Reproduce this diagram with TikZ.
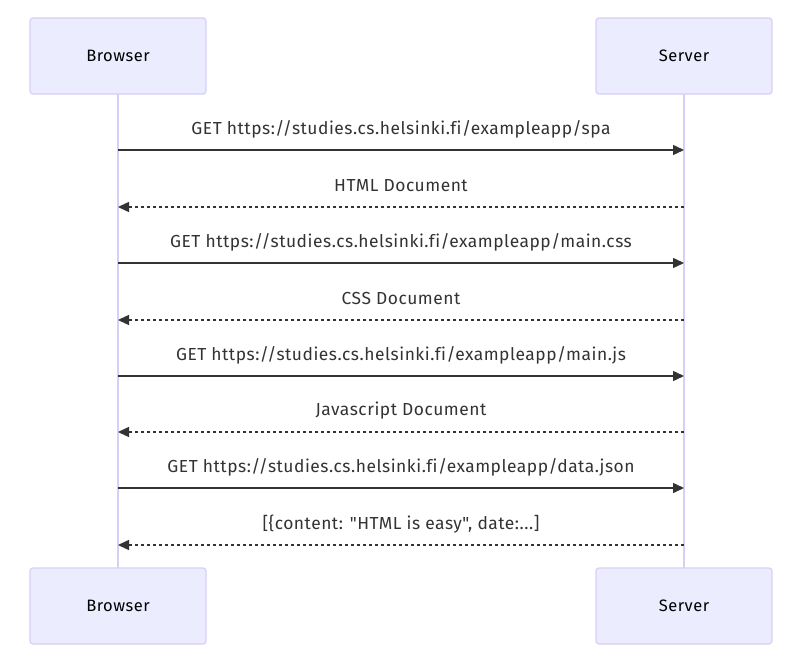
\documentclass[tikz,border=0pt]{standalone}
\usepackage{fontspec}
\newfontfamily\lf{Fira Sans}[LetterSpace=3,Ligatures={NoCommon}]
\usetikzlibrary{arrows.meta}
\definecolor{actfill}{HTML}{ECECFF}
\definecolor{actline}{HTML}{D9CEF5}
\definecolor{msg}{HTML}{333333}
\tikzset{
  actor/.style={draw=actline, fill=actfill, line width=1.2pt, rounded corners=3pt,
    minimum width=176pt, minimum height=76pt, inner sep=0pt, font=\lf\fontsize{16.5}{19}\selectfont, text=black},
  life/.style={draw=actline, line width=1.5pt},
  req/.style={draw=msg, line width=1.5pt, -{Triangle[length=11pt,width=10pt]}},
  resp/.style={req, dash pattern=on 3pt off 3pt},
  lbl/.style={font=\lf\fontsize{17.4}{19}\selectfont, text=msg, inner sep=0pt}
}
\begin{document}
\begin{tikzpicture}[x=1pt,y=-1pt]
\useasboundingbox[fill=white] (0,0) rectangle (798,669);
\coordinate (bt) at (118,94);
\coordinate (bb) at (118,568);
\coordinate (st) at (684,94);
\coordinate (sb) at (684,568);
\draw[life] (bt) -- (bb);
\draw[life] (st) -- (sb);
\node[actor] (b1) at (118,56) {Browser};
\node[actor] (s1) at (684,56) {Server};
\node[actor] (b2) at (118,606) {Browser};
\node[actor] (s2) at (684,606) {Server};
\foreach \i/\y/\t/\k in {
  1/150/{GET https://studies.cs.helsinki.fi/exampleapp/spa}/req,
  2/207/{HTML Document}/resp,
  3/263/{GET https://studies.cs.helsinki.fi/exampleapp/main.css}/req,
  4/320/{CSS Document}/resp,
  5/376/{GET https://studies.cs.helsinki.fi/exampleapp/main.js}/req,
  6/432/{Javascript Document}/resp,
  7/488/{GET https://studies.cs.helsinki.fi/exampleapp/data.json}/req,
  8/545/{[\{content: "HTML is easy", date:...]}/resp} {
  \coordinate (l\i) at (118,\y);
  \coordinate (r\i) at (684,\y);
  \node[lbl] (t\i) at (401,\y-21) {\t};
}
\draw[req]  (l1) -- (r1);
\draw[resp] (r2) -- (l2);
\draw[req]  (l3) -- (r3);
\draw[resp] (r4) -- (l4);
\draw[req]  (l5) -- (r5);
\draw[resp] (r6) -- (l6);
\draw[req]  (l7) -- (r7);
\draw[resp] (r8) -- (l8);
\end{tikzpicture}
\end{document}
